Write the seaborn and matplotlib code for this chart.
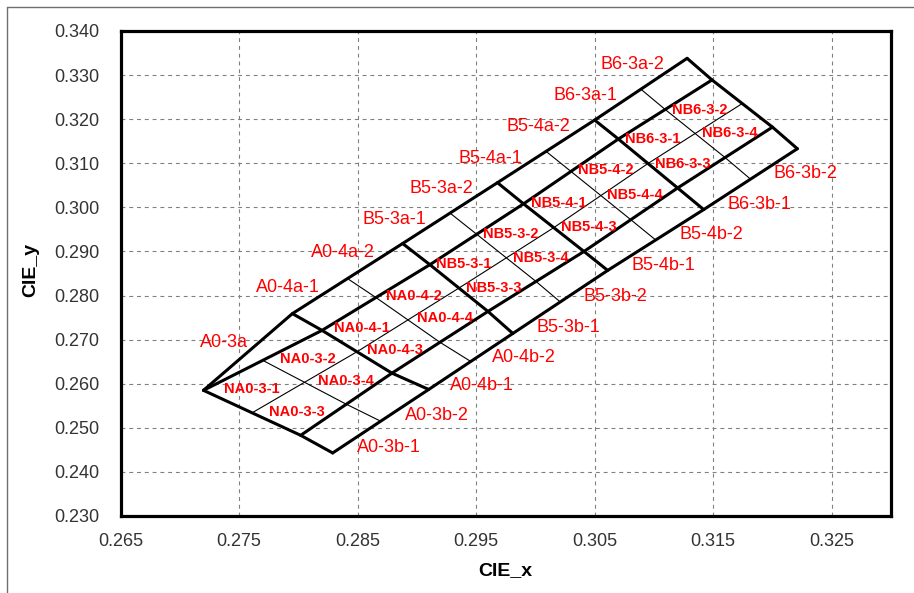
import numpy as np
import pandas as pd
import matplotlib
matplotlib.use("Agg")
import matplotlib.pyplot as plt
import seaborn as sns
from matplotlib.lines import Line2D

# ---------------- data ----------------
bins = ["A0-3", "A0-4", "B5-3", "B5-4", "B6-3"]

# corner nodes along the thick cross lines (left tip .. right edge)
top_x = [0.2720, 0.2795, 0.2888, 0.2968, 0.3050, 0.3128]     # outer upper edge
top_y = [0.2585, 0.2759, 0.2918, 0.3056, 0.3198, 0.3338]
upper_x = [0.2720, 0.2820, 0.2911, 0.2990, 0.3070, 0.3149]   # upper thick line
upper_y = [0.2585, 0.2721, 0.2870, 0.3008, 0.3155, 0.3289]
lower_x = [0.2802, 0.2879, 0.2960, 0.3041, 0.3120, 0.3200]   # lower thick line
lower_y = [0.2483, 0.2624, 0.2764, 0.2900, 0.3044, 0.3182]
bottom_x = [0.2829, 0.2910, 0.2981, 0.3061, 0.3142, 0.3221]  # outer lower edge
bottom_y = [0.2443, 0.2587, 0.2714, 0.2857, 0.2995, 0.3133]

x_ticks = [0.265, 0.275, 0.285, 0.295, 0.305, 0.315, 0.325]
x_tick_labels = ["0.265", "0.275", "0.285", "0.295", "0.305", "0.315", "0.325"]
y_ticks = [0.230, 0.240, 0.250, 0.260, 0.270, 0.280, 0.290, 0.300, 0.310, 0.320, 0.330, 0.340]
y_tick_labels = ["0.230", "0.240", "0.250", "0.260", "0.270", "0.280", "0.290",
                 "0.300", "0.310", "0.320", "0.330", "0.340"]
x_label = "CIE_x"
y_label = "CIE_y"

# ---------------- geometry ----------------
T = np.column_stack([top_x, top_y])
U = np.column_stack([upper_x, upper_y])
L = np.column_stack([lower_x, lower_y])
B = np.column_stack([bottom_x, bottom_y])
M = (U + L) / 2.0                      # thin lengthwise mid line


def half(P):
    return (P[:-1] + P[1:]) / 2.0


Th, Uh, Mh, Lh, Bh = half(T), half(U), half(M), half(L), half(B)

thick, thin = [], []
for P in (T, U, L, B):
    thick.append(P)
thick.append(np.vstack([T[0], L[0], B[0]]))
for k in range(1, len(T)):
    thick.append(np.vstack([T[k], U[k], L[k], B[k]]))
thin.append(M)
for k in range(len(bins)):
    if k == 0:
        thin.append(np.vstack([Uh[k], Mh[k], Lh[k], Bh[k]]))
    else:
        thin.append(np.vstack([Th[k], Uh[k], Mh[k], Lh[k], Bh[k]]))


def to_df(polys):
    rows = []
    for i, p in enumerate(polys):
        for j, (x, y) in enumerate(p):
            rows.append({"x": x, "y": y, "seg": i, "order": j})
    return pd.DataFrame(rows)


df_thick = to_df(thick)
df_thin = to_df(thin)

# ---------------- plotting ----------------
sns.set_theme(style="white")
plt.rcParams["font.family"] = ["Liberation Sans", "DejaVu Sans"]

W, H = 914, 593
fig = plt.figure(figsize=(W / 100, H / 100), dpi=100)
left, right, top, bottom = 120.5, 891, 31, 516
ax = fig.add_axes([left / W, 1 - bottom / H, (right - left) / W, (bottom - top) / H])

sns.lineplot(data=df_thin, x="x", y="y", units="seg", estimator=None, sort=False,
             color="black", linewidth=0.8, ax=ax, legend=False)
sns.lineplot(data=df_thick, x="x", y="y", units="seg", estimator=None, sort=False,
             color="black", linewidth=2.2, ax=ax, legend=False)

ax.set_xlim(0.265, 0.330)
ax.set_ylim(0.230, 0.340)
ax.set_xticks(x_ticks)
ax.set_xticklabels(x_tick_labels)
ax.set_yticks(y_ticks)
ax.set_yticklabels(y_tick_labels)
ax.set_xlabel("")
ax.set_ylabel("")
ax.grid(True, color="#808080", linestyle=(0, (3.5, 3.5)), linewidth=0.8)
ax.set_axisbelow(True)
ax.tick_params(axis="both", direction="in", length=5, width=1, colors="#333333",
               labelsize=13)
ax.tick_params(axis="x", pad=12)
ax.tick_params(axis="y", pad=15)
for s in ax.spines.values():
    s.set_visible(True)
    s.set_color("black")
    s.set_linewidth(2.3)

red = "#FF0000"
# outer labels (upper side)
for k, name in enumerate(bins):
    if k == 0:
        segs = [(T[0], T[1], name + "a")]
    else:
        segs = [(T[k], Th[k], name + "a-1"), (Th[k], T[k + 1], name + "a-2")]
    for p0, p1, txt in segs:
        mid = (p0 + p1) / 2
        ax.annotate(txt, xy=mid, xytext=(0, 9), textcoords="offset pixels",
                    ha="right", va="center", color=red, fontsize=13)
    for p0, p1, txt in [(B[k], Bh[k], name + "b-1"), (Bh[k], B[k + 1], name + "b-2")]:
        mid = (p0 + p1) / 2
        ax.annotate(txt, xy=mid, xytext=(0, -10), textcoords="offset pixels",
                    ha="left", va="center", color=red, fontsize=13)
    cells = [
        [U[k], Uh[k], Mh[k], M[k]],
        [Uh[k], U[k + 1], M[k + 1], Mh[k]],
        [M[k], Mh[k], Lh[k], L[k]],
        [Mh[k], M[k + 1], L[k + 1], Lh[k]],
    ]
    for n, c in enumerate(cells, start=1):
        cen = np.mean(np.array(c), axis=0)
        ax.annotate("N%s-%d" % (name, n), xy=cen, xytext=(-4, -3),
                    textcoords="offset pixels", ha="center", va="center",
                    color=red, fontsize=10.5, fontweight="bold")

fig.text((left + right) / 2 / W, 1 - 571 / H, x_label, ha="center", va="center",
         fontsize=14, fontweight="bold", color="black")
fig.text(31 / W, 1 - 270 / H, y_label, ha="center", va="center", rotation=90,
         fontsize=14, fontweight="bold", color="black")

# outer frame of the chart area (left and top)
fig.add_artist(Line2D([7 / W, 7 / W], [0, 1 - 7 / H], transform=fig.transFigure,
                      color="#707070", linewidth=1))
fig.add_artist(Line2D([7 / W, 1], [1 - 7 / H, 1 - 7 / H], transform=fig.transFigure,
                      color="#707070", linewidth=1))

fig.savefig("out.png", dpi=100)
